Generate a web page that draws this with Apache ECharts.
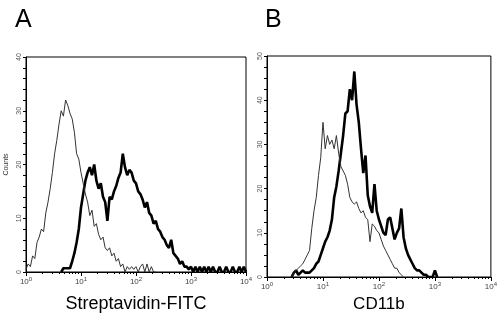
<!DOCTYPE html>
<html>
<head>
<meta charset="utf-8">
<script src="https://cdn.jsdelivr.net/npm/echarts@6/dist/echarts.min.js"></script>
<style>
html, body { margin: 0; padding: 0; background: #fff; }
#main { width: 500px; height: 323px; }
</style>
</head>
<body>
<div id="main"></div>
<script>
// histogram bins, x in decades (log10 of fluorescence), one bin every 0.04 decade
var binStep = 0.04;
var decadeTicks = [0, 1, 2, 3, 4];

// panel A - Streptavidin-FITC
var aControlStart = 0.00;
var aControl = [0.5, 1.5, 1, 3, 2.5, 5.5, 6.5, 8, 7.5, 11, 13, 15.5, 18.5, 22, 24.5, 27.5, 30, 29, 32, 31,
    29.5, 28.5, 26, 22, 21, 18.5, 16.5, 14.5, 13, 10.5, 11.5, 8.5, 9, 7, 6, 6.5, 4.5, 4, 4.5, 3,
    3.5, 2, 2.5, 1, 1.5, 0, 1, 0.5, 1, 0.5, 1, 0, 1, 1.5, 0, 1.5, 0, 1, 0, 0];
var aStainStart = 0.64;
var aStain = [0, 0.7, 0.7, 0.7, 0.7, 2, 3.5, 5.5, 8, 12, 14.5, 17, 18.5, 19.5, 18, 20, 17, 15.5, 16.5, 14,
    13, 9.5, 14, 13.5, 15, 16, 17.5, 18.5, 22, 19.5, 18, 19, 18.5, 17, 16.5, 15, 14.5, 13.5, 12, 13,
    11, 10.5, 9, 9.5, 8, 7.5, 6.5, 6, 5, 4.5, 6, 3.5, 3, 2.5, 1.5, 2, 1, 1, 0.5, 1,
    0, 1, 0, 1, 0, 1, 0, 1, 0, 1, 0, 0, 1, 0, 0, 1, 0, 0, 1, 0, 0, 1, 0, 1, 0];

// panel B - CD11b
var bControlStart = 0.44;
var bControl = [0, 1, 1.5, 2, 2.5, 3, 4, 5, 6, 11, 15, 18, 23, 27, 35, 29, 32, 30, 31, 29,
    32, 28, 25, 24, 23, 21, 18, 17, 16.5, 17, 15.5, 14.5, 15, 13.5, 13, 8, 12, 11.5, 10.5, 10,
    8.5, 7, 6, 5, 4, 3, 2, 2, 1, 0.5, 0];
var bStainStart = 0.44;
var bStain = [0, 1, 1.5, 0.5, 1, 1.5, 1, 1, 1, 1.5, 2, 3, 3.5, 5, 6.5, 8, 9, 10.5, 13, 18,
    20.5, 24, 28, 32, 37, 37.5, 42.5, 40, 46.5, 39, 35, 29, 23.5, 27.5, 18.5, 16, 14.5, 21, 15, 13,
    11.5, 10, 9.5, 13, 13.5, 11, 8.5, 10, 11, 15.5, 9, 6.5, 5, 4, 3, 2, 1.5, 1.5, 1, 0.5,
    0.5, 0, 0, 0, 1.5, 0];

function toPoints(start, counts) {
    return counts.map(function (c, i) {
        return [+(start + i * binStep).toFixed(2), c];
    });
}

// minor ticks at 2..9 of each decade
var minorTicks = [];
for (var n = 0; n < 4; n++) {
    for (var k = 2; k <= 9; k++) {
        minorTicks.push(n + Math.log10(k));
    }
}

var chart = echarts.init(document.getElementById('main'));

function decadeLabel(v) {
    return '{b|10}{s|' + v + '}';
}

function xMain(grid, nameText, gap, nameSize) {
    return {
        gridIndex: grid,
        type: 'value',
        min: 0,
        max: 4,
        interval: 1,
        name: nameText,
        nameLocation: 'middle',
        nameGap: gap,
        nameTextStyle: { fontSize: nameSize, color: '#000', fontFamily: 'Liberation Sans' },
        axisLine: { lineStyle: { color: '#000', width: 1 } },
        axisTick: { show: true, length: 4, lineStyle: { color: '#000' } },
        splitLine: { show: false },
        axisLabel: {
            margin: 4,
            color: '#444',
            formatter: decadeLabel,
            rich: {
                b: { fontSize: 8, fontFamily: 'Liberation Sans', color: '#444' },
                s: { fontSize: 6, fontFamily: 'Liberation Sans', color: '#444', padding: [0, 0, 6, 0] }
            }
        }
    };
}

function xMinor(grid) {
    return {
        gridIndex: grid,
        type: 'value',
        min: 0,
        max: 4,
        position: 'bottom',
        axisLine: { show: false },
        axisLabel: { show: false },
        splitLine: { show: false },
        axisTick: { show: true, length: 2, customValues: minorTicks, lineStyle: { color: '#000' } }
    };
}

function yAxis(grid, max, nameText, minorSplit) {
    return {
        gridIndex: grid,
        type: 'value',
        min: 0,
        max: max,
        interval: 10,
        name: nameText,
        nameLocation: 'middle',
        nameGap: 16,
        nameRotate: 90,
        nameTextStyle: { fontSize: 7, color: '#333', fontFamily: 'Liberation Sans' },
        axisLine: { show: true, lineStyle: { color: '#000' } },
        axisTick: { show: true, length: 3, lineStyle: { color: '#000' } },
        minorTick: { show: true, splitNumber: minorSplit, length: 3, lineStyle: { color: '#000' } },
        splitLine: { show: false },
        axisLabel: { rotate: 90, fontSize: 7, color: '#555', margin: 3, fontFamily: 'Liberation Sans' }
    };
}

function histSeries(xi, yi, data, width, color) {
    return {
        type: 'line',
        xAxisIndex: xi,
        yAxisIndex: yi,
        data: data,
        showSymbol: false,
        symbol: 'none',
        lineStyle: { width: width, color: color },
        silent: true
    };
}

var option = {
    animation: false,
    backgroundColor: '#fff',
    title: [
        { text: 'A', left: 10, top: 3, textStyle: { fontSize: 25, fontWeight: 'normal', color: '#000', fontFamily: 'Liberation Sans' } },
        { text: 'B', left: 260, top: 3, textStyle: { fontSize: 25, fontWeight: 'normal', color: '#000', fontFamily: 'Liberation Sans' } }
    ],
    grid: [
        { left: 26, top: 57, width: 220, height: 215, show: true, borderColor: '#000', borderWidth: 1 },
        { left: 267, top: 56, width: 225, height: 221, show: true, borderColor: '#000', borderWidth: 1 }
    ],
    xAxis: [
        xMain(0, 'Streptavidin-FITC', 23, 18),
        xMinor(0),
        xMain(1, 'CD11b', 19, 17),
        xMinor(1)
    ],
    yAxis: [
        yAxis(0, 40, 'Counts', 5),
        yAxis(1, 50, '', 4)
    ],
    series: [
        histSeries(0, 0, toPoints(aStainStart, aStain), 2.6, '#000'),
        histSeries(0, 0, toPoints(aControlStart, aControl), 1, '#333'),
        histSeries(2, 1, toPoints(bStainStart, bStain), 2.6, '#000'),
        histSeries(2, 1, toPoints(bControlStart, bControl), 1, '#333')
    ]
};

chart.setOption(option);
</script>
</body>
</html>
